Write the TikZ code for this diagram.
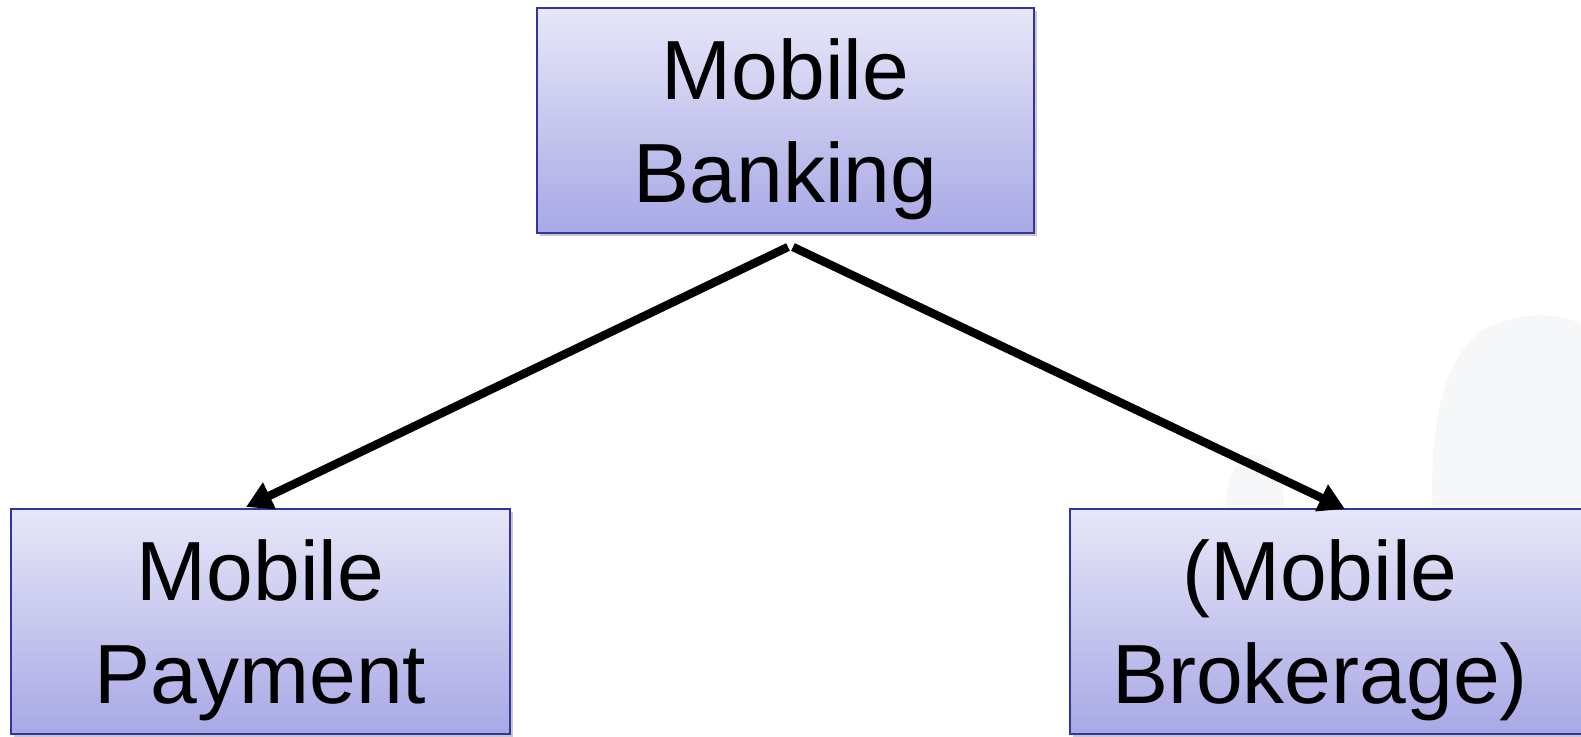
\documentclass[tikz,border=0pt]{standalone}
\usepackage{fontspec}
\setmainfont{Liberation Sans}
\usetikzlibrary{arrows.meta,shadows}
\definecolor{boxtop}{RGB}{231,231,248}
\definecolor{boxbot}{RGB}{168,168,230}
\definecolor{boxline}{RGB}{52,52,160}
\definecolor{ghost}{RGB}{246,247,248}
\begin{document}
\begin{tikzpicture}[x=0.5pt,y=-0.5pt,
  box/.style={draw=boxline, line width=1pt, top color=boxtop, bottom color=boxbot,
    minimum height=112.5pt, inner sep=0pt,
    drop shadow={shadow xshift=1.5pt, shadow yshift=-1.5pt, opacity=0.3, fill=black!70}},
  label text/.style={align=center, inner sep=0pt, font=\fontsize{42}{51.5}\selectfont},
  link/.style={line width=4.2pt, -{Triangle[length=13pt,width=14pt]}}]
\useasboundingbox (0,0) rectangle (1581,736);
\clip (0,0) rectangle (1581,736);
\fill[white] (0,0) rectangle (1581,736);
% faint background silhouette
\fill[ghost] (1433,520) .. controls (1428,420) and (1445,340) .. (1500,322)
  .. controls (1540,310) and (1570,315) .. (1590,330) -- (1590,520) -- cycle;
\fill[ghost] (1225,520) .. controls (1226,480) and (1235,455) .. (1255,455)
  .. controls (1275,455) and (1284,480) .. (1285,520) -- cycle;
% boxes
\node[box, minimum width=248.5pt] (bankbox) at (785.5,120.5) {};
\node[box, minimum width=249.5pt] (paybox) at (260.5,621.5) {};
\node[box, minimum width=270pt, anchor=west] (brokbox) at (1069,621.5) {};
% texts
\node[label text] (bank) at ([yshift=-4.5pt]bankbox.center) {Mobile\\Banking};
\node[label text] (pay) at ([yshift=-4.5pt]paybox.center) {Mobile\\Payment};
\node[label text] (brok) at ([yshift=-4.5pt]1320,621.5) {(Mobile\\Brokerage)};
% connectors
\coordinate (apexL) at (788,247);
\coordinate (apexR) at (793,247);
\coordinate (tipL) at (246,507);
\coordinate (tipR) at (1345,509);
\draw[link] (apexL) -- (tipL);
\draw[link] (apexR) -- (tipR);
\end{tikzpicture}
\end{document}
